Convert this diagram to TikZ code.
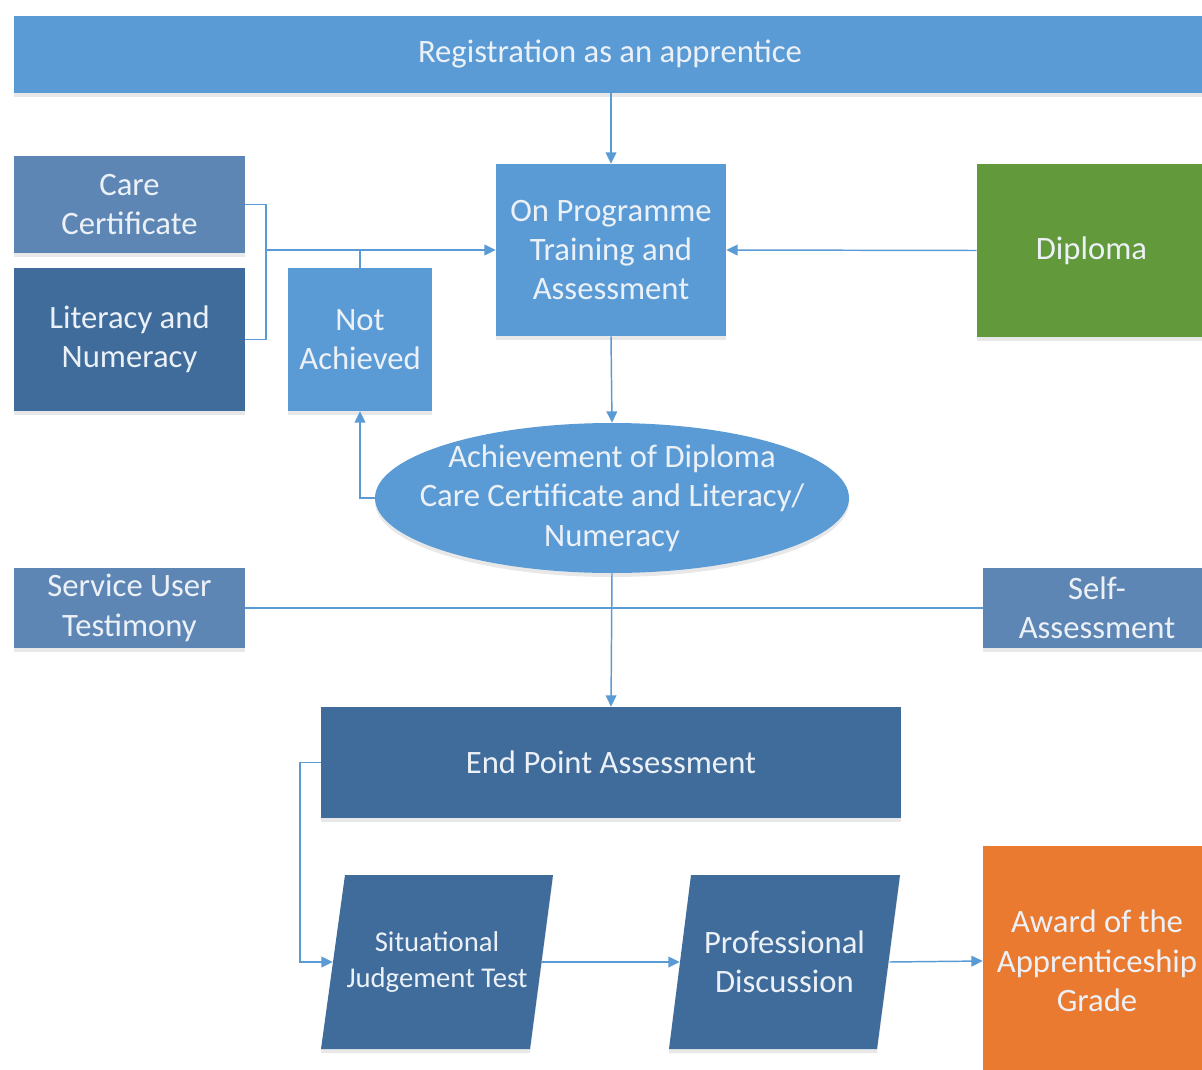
\documentclass[tikz,border=0pt]{standalone}
\usepackage{fontspec}
\setmainfont{Carlito}
\usetikzlibrary{shapes.geometric,arrows.meta,shadows}
\definecolor{lblue}{HTML}{5B9BD5}
\definecolor{sblue}{HTML}{5E86B5}
\definecolor{dblue}{HTML}{3F6C9B}
\definecolor{dgreen}{HTML}{62993B}
\definecolor{orng}{HTML}{EA7A30}
\definecolor{txt}{HTML}{ECF1F7}
\definecolor{lnc}{HTML}{5B9BD5}
\tikzset{
  shad/.style={drop shadow={shadow xshift=0pt, shadow yshift=-3pt, opacity=0.18, fill=gray}},
  lbl/.style={inner sep=0pt, align=center, text=txt, font=\fontsize{24.5pt}{29.5pt}\selectfont},
  base/.style={lbl, shad},
  boxL/.style={base, rectangle, fill=lblue},
  boxS/.style={base, rectangle, fill=sblue},
  boxD/.style={base, rectangle, fill=dblue},
  parafill/.style={fill=dblue, shad},
  conn/.style={draw=lnc, line width=1.1pt},
  arr/.style={conn, -{Triangle[length=8.5pt,width=8pt]}}
}
\begin{document}
\begin{tikzpicture}[x=0.75pt,y=-0.75pt]
\useasboundingbox[fill=white] (0,0) rectangle (1202,1070);
\node[boxL, minimum width=894pt, minimum height=57.75pt] (reg) at (610,54.5) {Registration as an apprentice};
\node[boxS, minimum width=173.25pt, minimum height=72.75pt] (care) at (129.5,204.5) {Care\\Certificate};
\node[boxD, minimum width=173.25pt, minimum height=107.25pt] (lit) at (129.5,339.5) {Literacy and\\Numeracy};
\node[boxL, minimum width=108pt, minimum height=107.25pt] (notach) at (360,339.5) {Not\\Achieved};
\node[boxL, minimum width=172.5pt, minimum height=129pt] (onprog) at (611,250) {On Programme\\Training and\\Assessment};
\node[base, rectangle, fill=dgreen, minimum width=171.75pt, minimum height=129.75pt] (dipl) at (1091.5,250.5) {Diploma};
\node[shad, ellipse, fill=lblue, inner sep=0pt, minimum width=355.5pt, minimum height=112.5pt] (ell) at (612,498) {};
\node[lbl] (elltxt) at (ell.center) {Achievement of Diploma\\Care Certificate and Literacy/\\Numeracy};
\node[boxS, minimum width=173.25pt, minimum height=60pt] (serv) at (129.5,608) {Service User\\Testimony};
\node[boxS, minimum width=171pt, minimum height=60pt] (self) at (1097,608) {Self-\\Assessment};
\node[boxD, minimum width=435pt, minimum height=83.25pt] (epa) at (611,762.5) {End Point Assessment};
% parallelograms
\fill[parafill] (345,875) -- (553,875) -- (530,1049) -- (321,1049) -- cycle;
\node[lbl, font=\fontsize{21.5pt}{27pt}\selectfont, minimum width=156pt, minimum height=130.5pt] (sjt) at (437,962) {Situational\\Judgement Test};
\fill[parafill] (691,875) -- (900,875) -- (877,1049) -- (669,1049) -- cycle;
\node[lbl, minimum width=156.75pt, minimum height=130.5pt] (pd) at (784.5,962) {Professional\\Discussion};
\node[base, rectangle, fill=orng, minimum width=171pt, minimum height=172.5pt] (award) at (1097,961) {Award of the\\Apprenticeship\\Grade};
\coordinate (jn) at (266,250);
\coordinate (ep) at (300,762.5);
% connectors
\draw[arr] (onprog.north |- reg.south) -- (onprog.north);
\draw[conn] (care.east) -| (jn) |- (lit.east);
\draw[arr] (jn) -- (onprog.west);
\draw[conn] (notach.north) -- (notach.north |- jn);
\draw[arr] (dipl.west) -- (onprog.east);
\draw[arr] (onprog.south) -- (ell.north);
\draw[arr] (ell.west) -| (notach.south);
\draw[conn] (serv.east) -- (self.west);
\draw[arr] (ell.south) -- (epa.north);
\draw[arr] (epa.west) -- (ep) |- (sjt.west);
\draw[arr] (sjt.east) -- (pd.west);
\draw[arr] (pd.east) -- (award.west);
\end{tikzpicture}
\end{document}
